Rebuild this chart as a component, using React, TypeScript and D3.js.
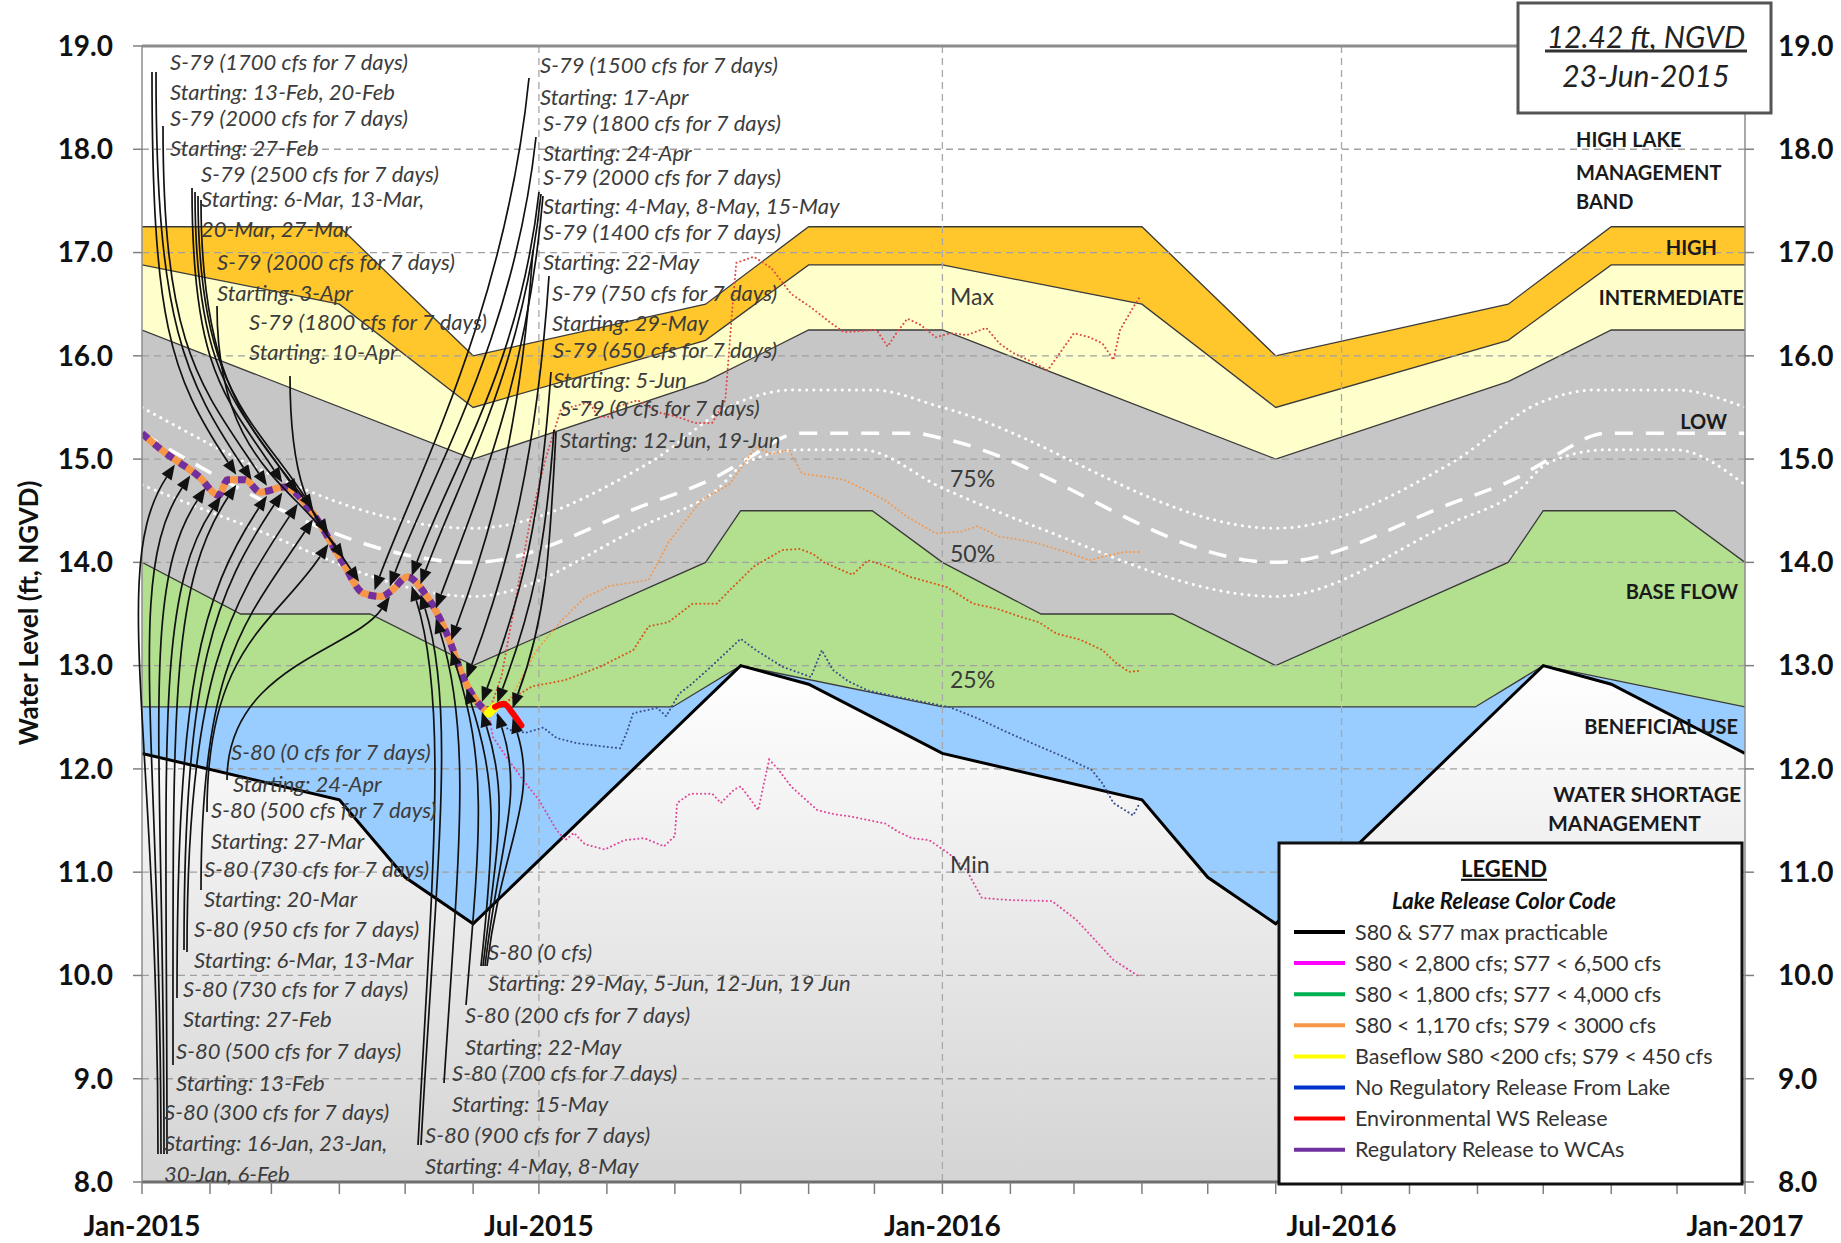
import * as d3 from "d3";
import React from "react";

type Pt = { d: Date; v: number };

const parseDate = d3.timeParse("%Y-%m-%d");
const toPts = (dates: string[], levels: number[]): Pt[] =>
  dates.map((s, i) => ({ d: parseDate(s) as Date, v: levels[i] }));

// ---- operating bands (ft, NGVD) ----
const highTopDates = ["2015-01-01", "2015-04-01", "2015-06-01", "2015-09-15", "2015-11-01", "2016-04-01", "2016-06-01", "2016-09-15", "2016-11-01", "2017-01-01"];
const highTopLevels = [17.25, 17.25, 16.0, 16.5, 17.25, 17.25, 16.0, 16.5, 17.25, 17.25];

const intermTopDates = ["2015-01-01", "2015-04-01", "2015-06-01", "2015-09-15", "2015-11-01", "2016-01-01", "2016-04-01", "2016-06-01", "2016-09-15", "2016-11-01", "2017-01-01"];
const intermTopLevels = [16.88, 16.5, 15.5, 16.15, 16.88, 16.88, 16.5, 15.5, 16.15, 16.88, 16.88];

const lowTopDates = ["2015-01-01", "2015-06-01", "2015-09-15", "2015-11-01", "2016-01-01", "2016-06-01", "2016-09-15", "2016-11-01", "2017-01-01"];
const lowTopLevels = [16.25, 15.0, 15.75, 16.25, 16.25, 15.0, 15.75, 16.25, 16.25];

const baseTopDates = ["2015-01-01", "2015-02-15", "2015-04-15", "2015-06-01", "2015-09-15", "2015-10-01", "2015-11-30", "2016-01-01", "2016-02-15", "2016-04-15", "2016-06-01", "2016-09-15", "2016-10-01", "2016-11-30", "2017-01-01"];
const baseTopLevels = [14.0, 13.5, 13.5, 13.0, 14.0, 14.5, 14.5, 14.0, 13.5, 13.5, 13.0, 14.0, 14.5, 14.5, 14.0];

const benefTopDates = ["2015-01-01", "2015-08-31", "2015-10-01", "2016-01-01", "2016-08-31", "2016-10-01", "2017-01-01"];
const benefTopLevels = [12.6, 12.6, 13.0, 12.6, 12.6, 13.0, 12.6];

const shortageDates = ["2015-01-01", "2015-04-01", "2015-05-01", "2015-06-01", "2015-10-01", "2015-11-01", "2016-01-01", "2016-04-01", "2016-05-01", "2016-06-01", "2016-10-01", "2016-11-01", "2017-01-01"];
const shortageLevels = [12.15, 11.7, 10.95, 10.5, 13.0, 12.82, 12.15, 11.7, 10.95, 10.5, 13.0, 12.82, 12.15];

// ---- white reference lines inside the LOW band ----
const upperDotDates = ["2015-01-01", "2015-06-01", "2015-08-20", "2015-09-30", "2015-10-25", "2015-11-30", "2016-01-01", "2016-06-01", "2016-08-20", "2016-09-30", "2016-10-25", "2016-11-30", "2017-01-01"];
const upperDotLevels = [15.5, 14.33, 14.96, 15.55, 15.67, 15.67, 15.5, 14.33, 14.96, 15.55, 15.67, 15.67, 15.5];

const dashDates = ["2015-01-01", "2015-06-01", "2015-08-20", "2015-09-20", "2015-10-03", "2015-10-28", "2015-12-20", "2016-01-01", "2016-06-01", "2016-08-20", "2016-09-20", "2016-10-03", "2016-10-30", "2017-01-01"];
const dashLevels = [15.25, 14.0, 14.57, 14.83, 14.99, 15.25, 15.25, 15.2, 14.0, 14.57, 14.83, 14.99, 15.25, 15.25];

const lowerDotDates = ["2015-01-01", "2015-02-12", "2015-06-01", "2015-08-20", "2015-09-20", "2015-10-03", "2015-10-28", "2015-11-25", "2016-01-01", "2016-02-12", "2016-06-01", "2016-08-20", "2016-09-20", "2016-10-03", "2016-10-30", "2016-11-30", "2017-01-01"];
const lowerDotLevels = [14.75, 14.4, 13.67, 14.38, 14.7, 14.96, 15.09, 15.09, 14.72, 14.35, 13.67, 14.38, 14.7, 14.96, 15.09, 15.09, 14.75];

// ---- observed stage and short release segments ----
const stageDates = ["2015-01-01", "2015-01-11", "2015-01-27", "2015-02-05", "2015-02-09", "2015-02-17", "2015-02-24", "2015-03-07", "2015-03-19", "2015-04-02", "2015-04-12", "2015-04-20", "2015-04-25", "2015-05-02", "2015-05-10", "2015-05-20", "2015-05-28", "2015-06-04", "2015-06-08"];
const stageLevels = [15.25, 15.07, 14.83, 14.65, 14.8, 14.8, 14.68, 14.73, 14.5, 14.02, 13.7, 13.67, 13.73, 13.86, 13.7, 13.31, 12.86, 12.62, 12.54];
const baseflowDates = ["2015-06-08", "2015-06-11"];
const baseflowLevels = [12.54, 12.6];
const envDates = ["2015-06-11", "2015-06-15", "2015-06-19", "2015-06-23"];
const envLevels = [12.6, 12.63, 12.54, 12.42];

// ---- position analysis forecasts ----
const maxDates = ["2015-06-08", "2015-06-14", "2015-06-20", "2015-06-27", "2015-07-04", "2015-07-11", "2015-07-24", "2015-07-28", "2015-08-02", "2015-08-06", "2015-08-15", "2015-08-25", "2015-09-02", "2015-09-10", "2015-09-18", "2015-09-24", "2015-09-27", "2015-09-29", "2015-10-07", "2015-10-15", "2015-10-24", "2015-11-02", "2015-11-11", "2015-11-17", "2015-12-02", "2015-12-07", "2015-12-11", "2015-12-16", "2015-12-22", "2015-12-29", "2016-01-05", "2016-01-12", "2016-01-21", "2016-01-27", "2016-02-02", "2016-02-10", "2016-02-18", "2016-02-22", "2016-03-01", "2016-03-08", "2016-03-14", "2016-03-19", "2016-03-22", "2016-03-28", "2016-03-31"];
const maxLevels = [12.54, 12.9, 13.6, 14.4, 15.0, 15.48, 15.55, 15.41, 15.41, 15.51, 15.57, 15.45, 15.41, 15.35, 15.35, 15.57, 16.4, 16.9, 16.96, 16.85, 16.6, 16.47, 16.32, 16.23, 16.25, 16.09, 16.22, 16.36, 16.3, 16.18, 16.22, 16.2, 16.27, 16.12, 16.03, 15.95, 15.86, 15.98, 16.22, 16.18, 16.12, 15.96, 16.25, 16.47, 16.57];

const p75Dates = ["2015-06-08", "2015-06-17", "2015-06-30", "2015-07-11", "2015-07-22", "2015-08-02", "2015-08-20", "2015-08-29", "2015-09-13", "2015-09-26", "2015-10-08", "2015-10-15", "2015-10-23", "2015-10-29", "2015-11-08", "2015-11-17", "2015-11-27", "2015-12-06", "2015-12-16", "2015-12-29", "2016-01-10", "2016-01-17", "2016-01-27", "2016-02-05", "2016-02-14", "2016-02-28", "2016-03-08", "2016-03-15", "2016-03-24", "2016-03-31"];
const p75Levels = [12.54, 12.64, 13.15, 13.43, 13.66, 13.77, 13.83, 14.19, 14.6, 14.76, 15.12, 15.05, 15.09, 14.86, 14.83, 14.8, 14.7, 14.6, 14.44, 14.28, 14.3, 14.35, 14.25, 14.22, 14.18, 14.09, 14.02, 14.06, 14.1, 14.1];

const p50Dates = ["2015-06-08", "2015-06-12", "2015-06-28", "2015-07-13", "2015-07-29", "2015-08-13", "2015-08-20", "2015-08-29", "2015-09-09", "2015-09-20", "2015-09-26", "2015-10-07", "2015-10-20", "2015-10-28", "2015-11-03", "2015-11-08", "2015-11-21", "2015-11-28", "2015-12-07", "2015-12-17", "2015-12-24", "2016-01-03", "2016-01-15", "2016-01-26", "2016-02-06", "2016-02-14", "2016-02-22", "2016-03-04", "2016-03-14", "2016-03-20", "2016-03-26", "2016-03-31"];
const p50Levels = [12.54, 12.6, 12.8, 12.86, 12.99, 13.15, 13.38, 13.42, 13.6, 13.6, 13.73, 13.96, 14.12, 14.13, 14.08, 14.0, 13.88, 14.02, 13.96, 13.86, 13.82, 13.76, 13.6, 13.55, 13.47, 13.42, 13.31, 13.25, 13.15, 13.03, 12.94, 12.95];

const p25Dates = ["2015-06-08", "2015-06-10", "2015-06-17", "2015-06-25", "2015-07-03", "2015-07-09", "2015-07-18", "2015-07-29", "2015-08-07", "2015-08-10", "2015-08-13", "2015-08-24", "2015-08-28", "2015-09-03", "2015-09-08", "2015-09-18", "2015-10-01", "2015-10-08", "2015-10-20", "2015-11-02", "2015-11-07", "2015-11-12", "2015-11-19", "2015-11-28", "2015-12-11", "2015-12-23", "2016-01-04", "2016-01-17", "2016-01-30", "2016-02-14", "2016-02-25", "2016-03-09", "2016-03-14", "2016-03-19", "2016-03-28", "2016-03-31"];
const p25Levels = [12.54, 12.57, 12.38, 12.35, 12.4, 12.3, 12.25, 12.22, 12.2, 12.35, 12.54, 12.59, 12.51, 12.73, 12.81, 13.0, 13.26, 13.15, 12.99, 12.89, 13.15, 12.96, 12.85, 12.76, 12.7, 12.65, 12.6, 12.49, 12.36, 12.22, 12.12, 11.99, 11.86, 11.67, 11.55, 11.67];

const minDates = ["2015-06-08", "2015-06-10", "2015-06-16", "2015-06-25", "2015-07-01", "2015-07-09", "2015-07-13", "2015-07-17", "2015-07-22", "2015-07-31", "2015-08-09", "2015-08-18", "2015-08-27", "2015-09-01", "2015-09-02", "2015-09-08", "2015-09-18", "2015-09-22", "2015-09-28", "2015-10-01", "2015-10-05", "2015-10-09", "2015-10-11", "2015-10-14", "2015-10-18", "2015-10-24", "2015-11-05", "2015-11-13", "2015-11-20", "2015-12-06", "2015-12-12", "2015-12-18", "2015-12-26", "2016-01-04", "2016-01-12", "2016-01-19", "2016-02-01", "2016-02-20", "2016-03-02", "2016-03-09", "2016-03-19", "2016-03-30"];
const minLevels = [12.54, 12.31, 12.12, 11.86, 11.7, 11.41, 11.31, 11.38, 11.27, 11.22, 11.31, 11.33, 11.25, 11.35, 11.67, 11.76, 11.76, 11.67, 11.8, 11.83, 11.72, 11.6, 11.8, 12.09, 12.0, 11.83, 11.6, 11.56, 11.54, 11.47, 11.39, 11.33, 11.31, 11.18, 11.02, 10.75, 10.73, 10.72, 10.54, 10.38, 10.15, 10.0];

// ---- axes ----
const yTicks = [8, 9, 10, 11, 12, 13, 14, 15, 16, 17, 18, 19];
const xTickDates = ["2015-01-01", "2015-07-01", "2016-01-01", "2016-07-01", "2017-01-01"];
const xTickLabels = ["Jan-2015", "Jul-2015", "Jan-2016", "Jul-2016", "Jan-2017"];

// ---- legend ----
const legendLabels = ["S80 & S77 max practicable", "S80 < 2,800 cfs; S77 < 6,500 cfs", "S80 < 1,800 cfs; S77 < 4,000 cfs", "S80 < 1,170 cfs; S79 < 3000 cfs", "Baseflow S80 <200 cfs; S79 < 450 cfs", "No Regulatory Release From Lake", "Environmental WS Release", "Regulatory Release to WCAs"];
const legendColors = ["#000000", "#ff00ff", "#00b050", "#f79646", "#ffff00", "#0033cc", "#ff0000", "#7030a0"];

// ---- release notes: text lines [text, x, y] and arrows [startX, startY, date] ----
const s79LeftText: [string, number, number][] = [
  ["S-79 (1700 cfs for 7 days)", 170, 62], ["Starting: 13-Feb, 20-Feb", 170, 92],
  ["S-79 (2000 cfs for 7 days)", 170, 118], ["Starting: 27-Feb", 170, 148],
  ["S-79 (2500 cfs for 7 days)", 201, 174], ["Starting: 6-Mar, 13-Mar,", 201, 199],
  ["20-Mar, 27-Mar", 201, 229], ["S-79 (2000 cfs for 7 days)", 217, 262],
  ["Starting: 3-Apr", 217, 293], ["S-79 (1800 cfs for 7 days)", 249, 322],
  ["Starting: 10-Apr", 249, 352],
];
const s79MidText: [string, number, number][] = [
  ["S-79 (1500 cfs for 7 days)", 540, 65], ["Starting: 17-Apr", 540, 97],
  ["S-79 (1800 cfs for 7 days)", 543, 123], ["Starting: 24-Apr", 543, 153],
  ["S-79 (2000 cfs for 7 days)", 543, 177], ["Starting: 4-May, 8-May, 15-May", 543, 206],
  ["S-79 (1400 cfs for 7 days)", 543, 232], ["Starting: 22-May", 543, 262],
  ["S-79 (750 cfs for 7 days)", 552, 293], ["Starting: 29-May", 552, 323],
  ["S-79 (650 cfs for 7 days)", 553, 350], ["Starting: 5-Jun", 553, 380],
  ["S-79 (0 cfs for 7 days)", 560, 408], ["Starting: 12-Jun, 19-Jun", 560, 440],
];
const s80LeftText: [string, number, number][] = [
  ["S-80 (0 cfs for 7 days)", 231, 752], ["Starting: 24-Apr", 233, 784],
  ["S-80 (500 cfs for 7 days)", 211, 810], ["Starting: 27-Mar", 211, 841],
  ["S-80 (730 cfs for 7 days)", 204, 869], ["Starting: 20-Mar", 204, 899],
  ["S-80 (950 cfs for 7 days)", 194, 929], ["Starting: 6-Mar, 13-Mar", 194, 960],
  ["S-80 (730 cfs for 7 days)", 183, 989], ["Starting: 27-Feb", 183, 1019],
  ["S-80 (500 cfs for 7 days)", 176, 1051], ["Starting: 13-Feb", 176, 1083],
  ["S-80 (300 cfs for 7 days)", 164, 1112], ["Starting: 16-Jan, 23-Jan,", 164, 1143],
  ["30-Jan, 6-Feb", 164, 1174],
];
const s80MidText: [string, number, number][] = [
  ["S-80 (0 cfs)", 488, 952], ["Starting: 29-May, 5-Jun, 12-Jun, 19 Jun", 488, 983],
  ["S-80 (200 cfs for 7 days)", 465, 1015], ["Starting: 22-May", 465, 1047],
  ["S-80 (700 cfs for 7 days)", 452, 1073], ["Starting: 15-May", 452, 1104],
  ["S-80 (900 cfs for 7 days)", 425, 1135], ["Starting: 4-May, 8-May", 425, 1166],
];

const s79LeftArrows: [number, number, string][] = [
  [152, 72, "2015-02-13"], [156, 72, "2015-02-20"], [163, 126, "2015-02-27"],
  [192, 188, "2015-03-06"], [195, 192, "2015-03-13"], [198, 196, "2015-03-20"], [201, 200, "2015-03-27"],
  [217, 306, "2015-04-03"], [290, 376, "2015-04-10"],
];
const s79MidArrows: [number, number, string][] = [
  [529, 78, "2015-04-17"], [536, 137, "2015-04-24"], [539, 192, "2015-05-04"],
  [541, 194, "2015-05-08"], [543, 196, "2015-05-15"], [533, 250, "2015-05-22"],
  [549, 276, "2015-05-29"], [551, 372, "2015-06-05"], [554, 430, "2015-06-12"], [556, 432, "2015-06-19"],
];
const s80LeftArrows: [number, number, string][] = [
  [227, 780, "2015-04-24"], [207, 812, "2015-03-27"], [201, 890, "2015-03-20"],
  [184, 950, "2015-03-06"], [187, 952, "2015-03-13"], [177, 998, "2015-02-27"],
  [173, 1065, "2015-02-13"], [158, 1154, "2015-01-16"], [161, 1154, "2015-01-23"],
  [164, 1154, "2015-01-30"], [167, 1154, "2015-02-06"],
];
const s80MidArrows: [number, number, string][] = [
  [481, 966, "2015-05-29"], [483, 966, "2015-06-05"], [485, 966, "2015-06-12"], [487, 966, "2015-06-19"],
  [466, 1005, "2015-05-22"], [444, 1083, "2015-05-15"], [418, 1145, "2015-05-04"], [421, 1145, "2015-05-08"],
];

const FONT = "Lato, 'Open Sans', sans-serif";

export default function App() {
  const width = 1841;
  const height = 1243;
  const left = 142, right = 1745, top = 46, bottom = 1182;

  const x = d3.scaleTime()
    .domain([parseDate("2015-01-01") as Date, parseDate("2017-01-01") as Date])
    .range([left, right]);
  const y = d3.scaleLinear().domain([8, 19]).range([bottom, top]);

  const line = d3.line<Pt>().x(p => x(p.d)).y(p => y(p.v));
  const smooth = d3.line<Pt>().x(p => x(p.d)).y(p => y(p.v)).curve(d3.curveMonotoneX);
  const area = d3.area<Pt>().x(p => x(p.d)).y0(bottom).y1(p => y(p.v));

  const highTop = toPts(highTopDates, highTopLevels);
  const intermTop = toPts(intermTopDates, intermTopLevels);
  const lowTop = toPts(lowTopDates, lowTopLevels);
  const baseTop = toPts(baseTopDates, baseTopLevels);
  const benefTop = toPts(benefTopDates, benefTopLevels);
  const shortage = toPts(shortageDates, shortageLevels);

  const stage = toPts(stageDates, stageLevels);
  const env = toPts(envDates, envLevels);
  const stageAll = [...stage, ...env.slice(1)];
  const bis = d3.bisector((p: Pt) => p.d).left;
  const stageAt = (dt: Date) => {
    const i = bis(stageAll, dt);
    if (i <= 0) return stageAll[0].v;
    if (i >= stageAll.length) return stageAll[stageAll.length - 1].v;
    const a = stageAll[i - 1], b = stageAll[i];
    const t = (+dt - +a.d) / (+b.d - +a.d);
    return a.v + t * (b.v - a.v);
  };

  const bands = [
    { pts: highTop, fill: "#ffc72c" },
    { pts: intermTop, fill: "#ffffcc" },
    { pts: lowTop, fill: "#c6c6c6" },
    { pts: baseTop, fill: "#b3e08e" },
    { pts: benefTop, fill: "#99ccff" },
  ];

  const forecasts = [
    { pts: toPts(maxDates, maxLevels), color: "#dc4a4a" },
    { pts: toPts(p75Dates, p75Levels), color: "#f39a50" },
    { pts: toPts(p50Dates, p50Levels), color: "#d4561c" },
    { pts: toPts(p25Dates, p25Levels), color: "#3a4f8c" },
    { pts: toPts(minDates, minLevels), color: "#e0469a" },
  ];

  const buildArrow = (sx: number, sy: number, ds: string, kind: string) => {
    const dt = parseDate(ds) as Date;
    const above = kind.startsWith("s79");
    const tx = x(dt);
    const ty = y(stageAt(dt)) + (above ? -5 : 5);
    let dir: [number, number];
    let c1: [number, number];
    if (kind === "s79Left") {
      dir = [0.55, 0.83];
      c1 = [sx, sy + 0.62 * (ty - sy)];
    } else if (kind === "s79Mid") {
      dir = [-0.35, 0.94];
      c1 = [sx - 0.15 * (sx - tx), sy + 0.45 * (ty - sy)];
    } else if (kind === "s80Left") {
      dir = [0.55, -0.83];
      c1 = [sx, sy + 0.62 * (ty - sy)];
    } else {
      dir = [-0.3, -0.95];
      c1 = [sx + 15, sy + 0.5 * (ty - sy)];
    }
    const n = Math.hypot(dir[0], dir[1]);
    dir = [dir[0] / n, dir[1] / n];
    const L = Math.max(35, Math.min(120, Math.abs(ty - sy) * 0.35));
    const c2 = [tx - dir[0] * L, ty - dir[1] * L];
    const hl = 15, hw = 6;
    const bx = tx - dir[0] * hl, by = ty - dir[1] * hl;
    const px = -dir[1], py = dir[0];
    return {
      d: `M${sx},${sy}C${c1[0]},${c1[1]} ${c2[0]},${c2[1]} ${bx},${by}`,
      head: `${tx},${ty} ${bx + px * hw},${by + py * hw} ${bx - px * hw},${by - py * hw}`,
    };
  };

  const arrows = [
    ...s79LeftArrows.map(a => buildArrow(a[0], a[1], a[2], "s79Left")),
    ...s79MidArrows.map(a => buildArrow(a[0], a[1], a[2], "s79Mid")),
    ...s80LeftArrows.map(a => buildArrow(a[0], a[1], a[2], "s80Left")),
    ...s80MidArrows.map(a => buildArrow(a[0], a[1], a[2], "s80Mid")),
  ];
  const notes = [...s79LeftText, ...s79MidText, ...s80LeftText, ...s80MidText];

  const months = d3.timeMonth.range(parseDate("2015-01-01") as Date, parseDate("2017-01-02") as Date);

  const bandLabelStyle = { fontFamily: FONT, fontWeight: 700, fontSize: 20, fill: "#1a1a1a" } as const;

  return (
    <svg width={width} height={height} style={{ position: "absolute", left: 0, top: 0, background: "#fff" }}>
      <defs>
        <linearGradient id="wsGrad" gradientUnits="userSpaceOnUse" x1="0" y1={y(13)} x2="0" y2={bottom}>
          <stop offset="0" stopColor="#ffffff" />
          <stop offset="1" stopColor="#d4d4d4" />
        </linearGradient>
        <clipPath id="plotClip">
          <rect x={left} y={top} width={right - left} height={bottom - top} />
        </clipPath>
      </defs>

      <g clipPath="url(#plotClip)">
        {bands.map((b, i) => (
          <path key={i} d={area(b.pts) as string} fill={b.fill} />
        ))}
        <path d={area(shortage) as string} fill="url(#wsGrad)" />
        {[highTop, intermTop, lowTop, baseTop, benefTop].map((p, i) => (
          <path key={i} d={line(p) as string} fill="none" stroke="#3a3a3a" strokeWidth={1.3} />
        ))}

        {/* grid */}
        {yTicks.slice(1, -1).map(t => (
          <line key={t} x1={left} x2={right} y1={y(t)} y2={y(t)} stroke="#a0a0a0" strokeWidth={1.3} strokeDasharray="7,5" />
        ))}
        {xTickDates.slice(1, -1).map(s => (
          <line key={s} x1={x(parseDate(s) as Date)} x2={x(parseDate(s) as Date)} y1={top} y2={bottom} stroke="#a8a8a8" strokeWidth={1.3} strokeDasharray="7,5" />
        ))}

        <path d={line(shortage) as string} fill="none" stroke="#000" strokeWidth={3} />

        {/* white reference lines */}
        <path d={smooth(toPts(upperDotDates, upperDotLevels)) as string} fill="none" stroke="#fff" strokeWidth={3} strokeDasharray="0.1,7" strokeLinecap="round" />
        <path d={smooth(toPts(lowerDotDates, lowerDotLevels)) as string} fill="none" stroke="#fff" strokeWidth={3} strokeDasharray="0.1,7" strokeLinecap="round" />
        <path d={smooth(toPts(dashDates, dashLevels)) as string} fill="none" stroke="#fff" strokeWidth={3.5} strokeDasharray="18,13" />

        {/* forecasts */}
        {forecasts.map((f, i) => (
          <path key={i} d={line(f.pts) as string} fill="none" stroke={f.color} strokeWidth={2} strokeDasharray="0.1,4" strokeLinecap="round" />
        ))}

        {/* observed stage */}
        <path d={smooth(stage) as string} fill="none" stroke="#f79646" strokeWidth={7} strokeLinejoin="round" />
        <path d={smooth(stage) as string} fill="none" stroke="#7030a0" strokeWidth={7} strokeDasharray="8,8" />
        <path d={line(toPts(baseflowDates, baseflowLevels)) as string} fill="none" stroke="#ffff00" strokeWidth={9} strokeLinecap="round" />
        <path d={smooth(env) as string} fill="none" stroke="#ff0000" strokeWidth={6} strokeLinecap="round" />
      </g>

      {/* axes */}
      <line x1={left} x2={right} y1={top} y2={top} stroke="#8c8c8c" strokeWidth={3} />
      <line x1={left} x2={right} y1={bottom} y2={bottom} stroke="#6e6e6e" strokeWidth={3} />
      <line x1={left} x2={left} y1={top} y2={bottom} stroke="#8c8c8c" strokeWidth={1.5} />
      <line x1={right} x2={right} y1={top} y2={bottom} stroke="#8c8c8c" strokeWidth={1.5} />
      {yTicks.map(t => (
        <g key={t}>
          <line x1={left - 9} x2={left} y1={y(t)} y2={y(t)} stroke="#7f7f7f" strokeWidth={1.5} />
          <line x1={right} x2={right + 9} y1={y(t)} y2={y(t)} stroke="#7f7f7f" strokeWidth={1.5} />
          <text x={113} y={y(t)} dy="0.35em" textAnchor="end" fontFamily={FONT} fontWeight={700} fontSize={28} fill="#111">{t.toFixed(1)}</text>
          <text x={1778} y={y(t)} dy="0.35em" textAnchor="start" fontFamily={FONT} fontWeight={700} fontSize={28} fill="#111">{t.toFixed(1)}</text>
        </g>
      ))}
      {months.map((m, i) => (
        <line key={i} x1={x(m)} x2={x(m)} y1={bottom} y2={bottom + 12} stroke="#7f7f7f" strokeWidth={1.5} />
      ))}
      {xTickDates.map((s, i) => (
        <text key={s} x={x(parseDate(s) as Date)} y={1226} dy="0.35em" textAnchor="middle" fontFamily={FONT} fontWeight={700} fontSize={28} fill="#111">{xTickLabels[i]}</text>
      ))}
      <text transform="translate(29,613) rotate(-90)" dy="0.35em" textAnchor="middle" fontFamily={FONT} fontWeight={700} fontSize={26} fill="#111">Water Level (ft, NGVD)</text>

      {/* band names */}
      <text x={1576} y={140} dy="0.35em" {...bandLabelStyle}>HIGH LAKE</text>
      <text x={1576} y={173} dy="0.35em" {...bandLabelStyle}>MANAGEMENT</text>
      <text x={1576} y={202} dy="0.35em" {...bandLabelStyle}>BAND</text>
      <text x={1717} y={248} dy="0.35em" textAnchor="end" {...bandLabelStyle}>HIGH</text>
      <text x={1744} y={298} dy="0.35em" textAnchor="end" {...bandLabelStyle}>INTERMEDIATE</text>
      <text x={1727} y={422} dy="0.35em" textAnchor="end" {...bandLabelStyle}>LOW</text>
      <text x={1738} y={592} dy="0.35em" textAnchor="end" {...bandLabelStyle}>BASE FLOW</text>
      <text x={1738} y={727} dy="0.35em" textAnchor="end" {...bandLabelStyle}>BENEFICIAL USE</text>
      <text x={1741} y={795} dy="0.35em" textAnchor="end" {...bandLabelStyle} fontSize={21}>WATER SHORTAGE</text>
      <text x={1548} y={824} dy="0.35em" {...bandLabelStyle} fontSize={21}>MANAGEMENT</text>

      {/* forecast names */}
      {[["Max", 297], ["75%", 479], ["50%", 554], ["25%", 680], ["Min", 865]].map(([t, yy]) => (
        <text key={t as string} x={950} y={yy as number} dy="0.35em" fontFamily={FONT} fontSize={23} fill="#3a3a3a">{t}</text>
      ))}

      {/* release notes */}
      {arrows.map((a, i) => (
        <g key={i}>
          <path d={a.d} fill="none" stroke="#111" strokeWidth={1.7} />
          <polygon points={a.head} fill="#111" />
        </g>
      ))}
      {notes.map(([t, nx, ny], i) => (
        <text key={i} x={nx} y={ny} dy="0.35em" fontFamily={FONT} fontStyle="italic" fontSize={22} fill="#3c3c3c">{t}</text>
      ))}

      {/* date box */}
      <rect x={1518} y={3} width={253} height={110} fill="#fff" stroke="#555" strokeWidth={3} />
      <text x={1646} y={37} dy="0.35em" textAnchor="middle" fontFamily={FONT} fontStyle="italic" fontSize={30} fill="#222">12.42 ft, NGVD</text>
      <line x1={1545} x2={1747} y1={51} y2={51} stroke="#333" strokeWidth={3} />
      <text x={1646} y={76} dy="0.35em" textAnchor="middle" fontFamily={FONT} fontStyle="italic" fontSize={30} fill="#222">23-Jun-2015</text>

      {/* legend */}
      <rect x={1279} y={843} width={463} height={341} fill="#fff" stroke="#111" strokeWidth={3} />
      <text x={1504} y={869} dy="0.35em" textAnchor="middle" fontFamily={FONT} fontWeight={700} fontSize={22} fill="#111" textDecoration="underline">LEGEND</text>
      <text x={1504} y={901} dy="0.35em" textAnchor="middle" fontFamily={FONT} fontWeight={700} fontStyle="italic" fontSize={22} fill="#111">Lake Release Color Code</text>
      {legendLabels.map((lbl, i) => (
        <g key={lbl} transform={`translate(0, ${932 + i * 31.1})`}>
          <line x1={1294} x2={1345} y1={0} y2={0} stroke={legendColors[i]} strokeWidth={4} />
          <text x={1355} y={0} dy="0.35em" fontFamily={FONT} fontSize={21.5} fill="#333">{lbl}</text>
        </g>
      ))}
    </svg>
  );
}
